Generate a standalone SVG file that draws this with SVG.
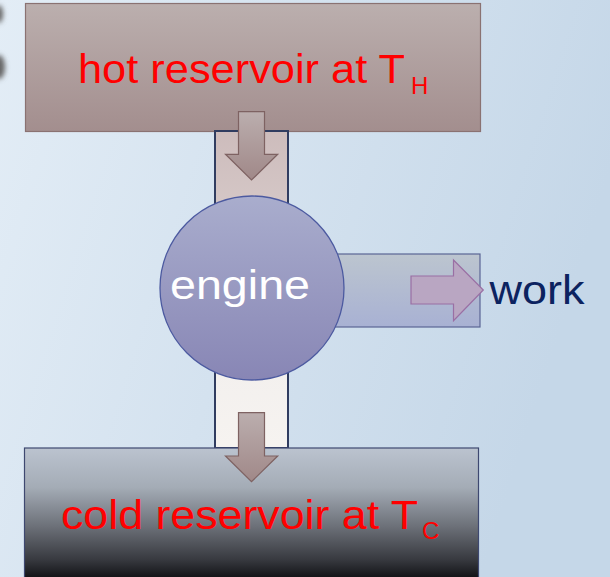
<svg xmlns="http://www.w3.org/2000/svg" width="610" height="577" viewBox="0 0 610 577">
<defs>
<linearGradient id="bg" x1="0" y1="0" x2="1" y2="0.3">
<stop offset="0" stop-color="#e3edf6"/>
<stop offset="1" stop-color="#c5d7e8"/>
</linearGradient>
<linearGradient id="hot" x1="0" y1="0" x2="0" y2="1">
<stop offset="0" stop-color="#bbafae"/>
<stop offset="1" stop-color="#a38e8e"/>
</linearGradient>
<linearGradient id="col" x1="0" y1="0" x2="0" y2="1">
<stop offset="0" stop-color="#cdbcbc"/>
<stop offset="0.35" stop-color="#d8cccb"/>
<stop offset="0.75" stop-color="#f3f0ee"/>
<stop offset="1" stop-color="#f6f3f0"/>
</linearGradient>
<linearGradient id="eng" x1="0" y1="0" x2="0" y2="1">
<stop offset="0" stop-color="#a9adcd"/>
<stop offset="1" stop-color="#8886b5"/>
</linearGradient>
<linearGradient id="wk" x1="0" y1="0" x2="0" y2="1">
<stop offset="0" stop-color="#bcc5cf"/>
<stop offset="1" stop-color="#a8b1d3"/>
</linearGradient>
<linearGradient id="arr" x1="0" y1="0" x2="0" y2="1">
<stop offset="0" stop-color="#bbaeae"/>
<stop offset="1" stop-color="#a08888"/>
</linearGradient>
<linearGradient id="cold" x1="0" y1="0" x2="0" y2="1">
<stop offset="0" stop-color="#bbc3cf"/>
<stop offset="0.3" stop-color="#a4acb6"/>
<stop offset="0.6" stop-color="#6c7078"/>
<stop offset="0.85" stop-color="#383a40"/>
<stop offset="1" stop-color="#0f1013"/>
</linearGradient>
<filter id="blur" x="-1" y="-1" width="3" height="3"><feGaussianBlur stdDeviation="2.5"/></filter>
<style>
.lbl{font-family:"Liberation Sans",Arial,sans-serif;}
.red{fill:#ff0000;font-size:40px;}
.arrow{fill:url(#arr);stroke:#7e6262;stroke-width:1.2;}
</style>
</defs>
<rect width="610" height="577" fill="url(#bg)"/>
<g filter="url(#blur)" fill="#666">
<ellipse cx="-1" cy="14" rx="4" ry="9"/>
<ellipse cx="-1" cy="67" rx="6" ry="12"/>
</g>
<g id="hot-reservoir">
<rect x="25.5" y="3.5" width="455" height="128" fill="url(#hot)" stroke="#8a7272" stroke-width="1.2"/>
<text class="lbl red" x="78" y="83"><tspan textLength="327" lengthAdjust="spacingAndGlyphs">hot reservoir at T</tspan><tspan font-size="24" dy="11" dx="6">H</tspan></text>
</g>
<g id="column">
<rect x="215" y="131" width="73" height="317" fill="url(#col)" stroke="#303c60" stroke-width="2"/>
</g>
<g id="work-box">
<rect x="335" y="254" width="145" height="73" fill="url(#wk)" stroke="#5a6594" stroke-width="1.2"/>
</g>
<g id="engine">
<circle cx="252" cy="288" r="92" fill="url(#eng)" stroke="#4c5aa0" stroke-width="1.3"/>
<text class="lbl" x="240" y="299" fill="#ffffff" font-size="40" text-anchor="middle" textLength="140" lengthAdjust="spacingAndGlyphs">engine</text>
</g>
<g id="cold-reservoir">
<rect x="24.5" y="448" width="454" height="131" fill="url(#cold)" stroke="#3e4870" stroke-width="1.2"/>
<text class="lbl red" x="61" y="529"><tspan textLength="357" lengthAdjust="spacingAndGlyphs">cold reservoir at T</tspan><tspan font-size="24" dy="10" dx="4">C</tspan></text>
</g>
<g id="connectors">
<path class="arrow" d="M238.5 111.7 H264.5 V154.3 H277.7 L251.5 180 L225.5 154.3 H238.5 Z"/>
<path class="arrow" d="M238.5 412.7 H264.5 V456 H277.7 L251.5 481.7 L225.5 456 H238.5 Z"/>
<path d="M411 276 H453.5 V260 L483.3 290 L453.5 320.7 V304 H411 Z" fill="#b9a6c2" stroke="#9a6fa4" stroke-width="1.2"/>
</g>
<g id="work-label">
<text class="lbl" x="489.5" y="304" fill="#0c2360" font-size="40" textLength="95" lengthAdjust="spacingAndGlyphs">work</text>
</g>
</svg>
